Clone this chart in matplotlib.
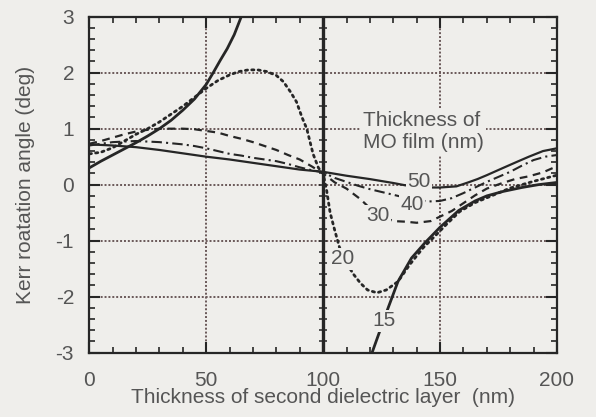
import numpy as np
import matplotlib
matplotlib.use("Agg")
import matplotlib.pyplot as plt

plt.rcParams['font.family'] = ['Liberation Sans', 'DejaVu Sans']
plt.rcParams['axes.unicode_minus'] = False

# Kerr rotation vs. thickness of the second dielectric layer, for several MO film thicknesses
# 15 nm film: the curve diverges near 66 nm and returns from below near 120 nm
x15_a = [0, 5, 10, 15, 20, 25, 30, 35, 40, 45, 50, 53, 56, 59, 62, 65, 66.5]
y15_a = [0.30, 0.42, 0.53, 0.64, 0.75, 0.87, 1.0, 1.15, 1.33, 1.53, 1.79, 2.0, 2.22, 2.43, 2.68, 3.0, 3.2]
x15_b = [120.5, 123.5, 127.8, 132, 137.8, 143.5, 150, 158, 165, 170, 177, 185, 192, 200]
y15_b = [-3.05, -2.7, -2.2, -1.73, -1.31, -1.04, -0.76, -0.46, -0.29, -0.2, -0.12, -0.05, 0.0, 0.04]

x20 = [0, 5, 10, 15, 20, 25, 30, 35, 40, 45, 50, 55, 60, 64, 68, 72, 76, 80, 83, 86,
       88.6, 91, 93, 95.7, 98, 100, 101.5, 103, 105, 107, 110, 113, 116, 119, 123, 127,
       132, 137, 142.7, 148.5, 152.7, 158.4, 165, 172, 180, 190, 200]
y20 = [0.55, 0.58, 0.66, 0.78, 0.9, 1.0, 1.12, 1.26, 1.4, 1.56, 1.72, 1.86, 1.96, 2.02, 2.05, 2.05, 2.02, 1.95, 1.84, 1.66,
       1.48, 1.2, 1.0, 0.55, 0.3, 0.2, -0.1, -0.5, -0.82, -1.12, -1.4, -1.6, -1.76, -1.88, -1.93, -1.88,
       -1.73, -1.43, -1.13, -0.89, -0.71, -0.48, -0.32, -0.2, -0.06, 0.06, 0.17]

x30 = [0, 5, 10, 15, 20, 25, 30, 35, 40, 45, 50, 55, 60, 65, 70, 75, 80, 85, 90, 95, 100,
       105, 110, 116, 120, 125, 130, 135, 140, 146, 150, 155, 160, 165, 170, 176, 182, 188, 194, 200]
y30 = [0.73, 0.78, 0.84, 0.9, 0.95, 0.98, 1.0, 1.0, 1.0, 0.99, 0.96, 0.93, 0.87, 0.82, 0.76, 0.69, 0.62, 0.53, 0.45, 0.33, 0.2,
       0.04, -0.07, -0.26, -0.42, -0.56, -0.65, -0.66, -0.68, -0.65, -0.57, -0.47, -0.33, -0.19, -0.07, 0.02, 0.1, 0.15, 0.22, 0.33]

x40 = [0, 5, 10, 15, 20, 25, 30, 35, 40, 45, 50, 55, 60, 65, 70, 75, 80, 85, 90, 95, 100,
       105, 110, 115, 120, 125, 130, 135, 140, 145, 150, 155, 160, 165, 170, 175, 180, 185, 190, 195, 200]
y40 = [0.7, 0.73, 0.76, 0.77, 0.78, 0.77, 0.76, 0.74, 0.72, 0.69, 0.65, 0.6, 0.55, 0.52, 0.48, 0.45, 0.42, 0.37, 0.31, 0.26, 0.22,
       0.12, 0.05, -0.02, -0.08, -0.13, -0.18, -0.23, -0.27, -0.3, -0.29, -0.24, -0.15, -0.05, 0.05, 0.14, 0.23, 0.34, 0.44, 0.5, 0.53]

x50 = [0, 10, 20, 30, 40, 50, 60, 70, 80, 90, 100, 110, 120, 130, 135, 140, 145, 150, 157,
       162, 166, 170, 177, 183, 188, 194, 200]
y50 = [0.72, 0.7, 0.67, 0.62, 0.56, 0.5, 0.45, 0.39, 0.33, 0.27, 0.23, 0.16, 0.1, 0.03, -0.01, -0.04, -0.05, -0.05, -0.03,
       0.04, 0.1, 0.17, 0.3, 0.41, 0.5, 0.6, 0.65]

# curve labels: (text, x, y)
curve_labels = [("15", 126, -2.43), ("20", 108.5, -1.32), ("30", 123.5, -0.55),
                ("40", 138, -0.36), ("50", 141, 0.06)]
legend_title = "Thickness of\nMO film (nm)"

bg = '#efeeeb'
ink = '#262626'
txt = '#555555'
grid_c = '#6a5858'
fs = 15

fig = plt.figure(figsize=(5.96, 4.17), dpi=100, facecolor=bg)
ax = fig.add_axes([0.1498, 0.1542, 0.7847, 0.8058], facecolor=bg)

ax.set_xlim(0, 200)
ax.set_ylim(-3, 3)

# dotted reference grid and the solid line at 100 nm
for yv in [-2, -1, 0, 1, 2]:
    ax.axhline(yv, color=grid_c, lw=1.4, ls=(0, (1, 1)), zorder=1)
for xv in [50, 150]:
    ax.axvline(xv, color=grid_c, lw=1.4, ls=(0, (1, 1)), zorder=1)
ax.axvline(100, color=ink, lw=2.4, zorder=2)
yt_minor = np.arange(-3, 3.001, 0.2)
ax.plot(np.full(len(yt_minor), 100.0), yt_minor, ls='none', marker='_', ms=6, mew=1.1,
        color=ink, zorder=2)

ax.plot(x15_a, y15_a, color=ink, lw=2.0, zorder=3)
ax.plot(x15_b, y15_b, color=ink, lw=2.0, zorder=3)
ax.plot(x20, y20, color=ink, lw=2.0, ls=(0, (0.8, 1.5)), dash_capstyle='round', zorder=3)
ax.plot(x30, y30, color=ink, lw=1.6, ls=(0, (3.5, 2.5)), zorder=3)
ax.plot(x40, y40, color=ink, lw=1.5, ls=(0, (5, 2, 1, 2)), zorder=3)
ax.plot(x50, y50, color=ink, lw=1.6, zorder=3)

for s, xv, yv in curve_labels:
    ax.text(xv, yv, s, fontsize=fs, color=txt, ha='center', va='center', zorder=5,
            bbox=dict(facecolor=bg, edgecolor='none', pad=1.0))

ax.text(117, 0.945, legend_title, fontsize=fs, color=txt, ha='left', va='center',
        linespacing=1.2, zorder=5, bbox=dict(facecolor=bg, edgecolor='none', pad=2.0))

# axes frame and ticks
for sp in ax.spines.values():
    sp.set_color(ink)
    sp.set_linewidth(1.6)
ax.set_xticks([0, 50, 100, 150, 200])
ax.set_xticks(np.arange(0, 201, 10), minor=True)
ax.set_yticks([-3, -2, -1, 0, 1, 2, 3])
ax.set_yticks(yt_minor, minor=True)
ax.tick_params(which='both', direction='in', top=True, right=True, colors=ink,
               labelcolor=txt, labelsize=fs)
ax.tick_params(which='major', length=8, width=1.5)
ax.tick_params(which='minor', length=4.5, width=1.2)
ax.tick_params(axis='x', which='major', pad=13)
ax.tick_params(axis='y', which='major', pad=11)

ax.set_xlabel("Thickness of second dielectric layer  (nm)", fontsize=fs, color=txt, labelpad=-1)
ax.set_ylabel("Kerr roatation angle (deg)", fontsize=fs, color=txt)
ax.yaxis.set_label_coords(-0.115, 0.5)

fig.savefig("out.png", dpi=100, facecolor=bg)
